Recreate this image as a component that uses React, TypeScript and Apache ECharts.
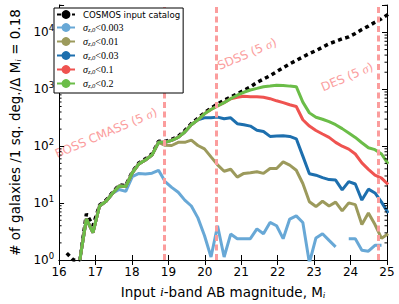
import React, { useEffect, useRef } from "react";
import * as echarts from "echarts";

// Bin centres of the input i-band magnitude (ΔM = 0.18)
const magnitudes = [
  16.03, 16.21, 16.39, 16.57, 16.75, 16.93, 17.11, 17.29, 17.47, 17.65, 17.83,
  18.01, 18.19, 18.37, 18.55, 18.73, 18.91, 19.09, 19.27, 19.45, 19.63, 19.81,
  19.99, 20.17, 20.35, 20.53, 20.71, 20.89, 21.07, 21.25, 21.43, 21.61, 21.79,
  21.97, 22.15, 22.33, 22.51, 22.69, 22.87, 23.05, 23.23, 23.41, 23.59, 23.77,
  23.95, 24.13, 24.31, 24.49, 24.67, 24.85, 25.03,
];

const cosmos = [
  null, 1.32, 1.0, 1.0, 6.5, 4.0, 9.2, 11.3, 15.5, 20.8, 20.4, 35.6, 51, 60, 73,
  122, 122, 132, 149, 189, 249, 310, 386, 470, 551, 646, 728, 836, 961, 1104,
  1321, 1517, 1742, 2044, 2395, 2807, 3226, 3707, 4258, 4797, 5510, 6339, 6998,
  7727, 8360, 9610, 11270, 12940, 15170, 17420, 20840,
];

const sigma0003 = [
  null, null, null, 1.0, 5.3, 3.04, 8.9, 10.8, 14.9, 17.4, 16.1, 29.2, 33.3,
  32.5, 33.6, 37.8, 23.9, 18.9, 15.5, 11.3, 8.9, 5.5, 2.7, 1.13, 4.0, 1.13,
  2.86, 2.37, 2.37, 2.37, 3.52, 2.89, 4.57, 4.0, 2.37, 5.24, 5.97, 4.57, 0.89,
  2.44, 2.89, 2.21, 1.7, null, 2.37, 2.37, 1.49, 1.43, 1.81, 1.81, null,
];

const sigma001 = [
  null, null, null, 1.0, 5.3, 3.04, 8.9, 10.8, 14.9, 20.0, 19.6, 34.2, 49,
  57.4, 70, 117, 104, 103, 117, 117, 128, 103, 90, 65, 47, 36.3, 39.3, 28.6,
  33.3, 34.2, 35.6, 33.3, 40.6, 40.6, 53, 46.5, 37.8, 22.1, 10.6, 8.7, 10.8,
  8.9, 10.4, 7.3, 10.1, 9.4, 4.2, 6.7, 4.2, 2.4, 2.9,
];

const sigma003 = [
  null, null, null, 1.0, 5.3, 3.04, 8.9, 10.8, 14.9, 20.0, 19.6, 34.2, 49,
  57.4, 70, 117, 117, 127, 143, 178, 239, 292, 316, 316, 325, 304, 316, 249,
  239, 226, 191, 181, 149, 152, 153, 149, 135, 67, 32.9, 31, 28.1, 25.9, 25.4,
  17.1, 23.9, 21.7, 11.3, 17.6, 15.1, 10.4, 6.7,
];

const sigma01 = [
  null, null, null, 1.0, 5.3, 3.04, 8.9, 10.8, 14.9, 20.0, 19.6, 34.2, 49,
  57.4, 70, 117, 117, 127, 143, 178, 239, 292, 371, 443, 509, 585, 686, 728,
  757, 743, 743, 728, 686, 629, 585, 536, 499, 292, 226, 189, 164, 143, 117,
  100, 89, 73, 51, 39.3, 31, 27.5, 21.3,
];

const sigma02 = [
  null, null, null, 1.0, 5.3, 3.04, 8.9, 10.8, 14.9, 20.0, 19.6, 34.2, 49,
  57.4, 70, 117, 117, 127, 143, 178, 239, 292, 371, 443, 509, 585, 686, 788,
  888, 973, 1040, 1113, 1148, 1186, 1172, 1140, 1113, 597, 386, 323, 298, 270,
  239, 204, 171, 143, 115, 94, 87, 73, 49,
];

const thresholds = ["0.003", "0.01", "0.03", "0.1", "0.2"];
const thresholdSeries = [sigma0003, sigma001, sigma003, sigma01, sigma02];
const thresholdColors = ["#68a8d6", "#9c9a5c", "#1d6fae", "#ef5350", "#6bbd48"];
const cosmosName = "COSMOS input catalog";

const limitMags = [18.9, 20.3, 24.75];
const limitLabels = ["BOSS CMASS", "SDSS", "DES"];

const xTicks = { min: 16, max: 25, step: 1 };
const yLogMax = 4.483; // top of the axis, log10 of count
const minorMultipliers = [2, 3, 4, 5, 6, 7, 8, 9];
const decades = [0, 1, 2, 3, 4];

const toLogPairs = (ys: (number | null)[]) =>
  magnitudes.map((m, i) => [m, ys[i] == null ? "-" : Math.log10(ys[i] as number)]);

const sigmaName = (t: string) => `σz,0<${t}`;

export default function App() {
  const ref = useRef<HTMLDivElement>(null);

  useEffect(() => {
    document.body.style.margin = "0";
    if (!ref.current) return;
    const chart = echarts.init(ref.current, undefined, { renderer: "svg" });

    const minorData: number[][] = [];
    decades.forEach((d) =>
      minorMultipliers.forEach((m) => {
        const v = d + Math.log10(m);
        if (v < yLogMax) minorData.push([xTicks.min, v]);
      })
    );

    const lineSeries: any[] = thresholds.map((t, i) => ({
      type: "line",
      name: sigmaName(t),
      data: toLogPairs(thresholdSeries[i]),
      showSymbol: false,
      symbol: "none",
      connectNulls: false,
      lineStyle: { color: thresholdColors[i], width: 3 },
      itemStyle: { color: thresholdColors[i] },
      z: 3 + i,
    }));

    const cosmosSeries = {
      type: "line",
      name: cosmosName,
      data: toLogPairs(cosmos),
      showSymbol: false,
      symbol: "none",
      lineStyle: { color: "#000", width: 3.5, type: [4, 3.5], cap: "butt" },
      itemStyle: { color: "#000" },
      z: 2,
      markLine: {
        silent: true,
        symbol: ["none", "none"],
        label: { show: false },
        lineStyle: { color: "#fb9d9d", width: 3, type: [6, 3.5], opacity: 1 },
        data: limitMags.map((m) => ({ xAxis: m })),
        z: 10,
      },
    };

    const minorSeries = {
      type: "custom",
      name: "minor",
      data: minorData,
      silent: true,
      z: 20,
      renderItem: (params: any, api: any) => {
        const v = api.value(1);
        const pl = api.coord([xTicks.min, v]);
        const pr = api.coord([xTicks.max, v]);
        return {
          type: "group",
          children: [
            {
              type: "line",
              shape: { x1: pl[0], y1: pl[1], x2: pl[0] + 2.5, y2: pl[1] },
              style: { stroke: "#000", lineWidth: 1 },
            },
            {
              type: "line",
              shape: { x1: pr[0], y1: pr[1], x2: pr[0] - 2.5, y2: pr[1] },
              style: { stroke: "#000", lineWidth: 1 },
            },
          ],
        };
      },
    };

    const sansFont = "DejaVu Sans";
    const serifFont = "Liberation Serif";

    const annotation = (label: string, x: number, y: number) => ({
      type: "group",
      x,
      y,
      rotation: (23 * Math.PI) / 180,
      silent: true,
      z: 50,
      children: [
        {
          type: "text",
          x: 0,
          y: 0,
          style: {
            text: `{a|${label} (5 }{s|σ}{a|)}`,
            align: "center",
            verticalAlign: "middle",
            rich: {
              a: { fontSize: 12, fontFamily: sansFont, fill: "#fb9d9d" },
              s: { fontSize: 12.5, fontFamily: serifFont, fontStyle: "italic", fill: "#fb9d9d" },
            },
          },
        },
      ],
    });

    const option: any = {
      animation: false,
      backgroundColor: "#fff",
      grid: { left: 50, right: 12, top: 5, bottom: 39, containLabel: false },
      legend: {
        data: [cosmosName, ...thresholds.map(sigmaName)],
        orient: "vertical",
        left: 54,
        top: 8,
        backgroundColor: "#fff",
        borderColor: "#000",
        borderWidth: 1,
        borderRadius: 0,
        padding: [2, 3, 4, 2],
        itemWidth: 18,
        itemHeight: 11,
        itemGap: 3,
        selectedMode: false,
        z: 30,
        formatter: (name: string) => {
          if (name === cosmosName) return `{c|${name}}`;
          const t = name.split("<")[1];
          return `{s|σ}{sub|z,0}{t|<${t}}`;
        },
        textStyle: {
          color: "#000",
          padding: [0, 0, 0, 3],
          rich: {
            c: { fontSize: 8.6, fontFamily: sansFont, lineHeight: 11, color: "#000" },
            s: { fontSize: 10, fontFamily: serifFont, fontStyle: "italic", lineHeight: 11, color: "#000" },
            sub: { fontSize: 6.5, fontFamily: serifFont, fontStyle: "italic", lineHeight: 11, padding: [4, 0, 0, 0], color: "#000" },
            t: { fontSize: 10, fontFamily: serifFont, lineHeight: 11, color: "#000" },
          },
        },
      },
      xAxis: [
        {
          type: "value",
          min: xTicks.min,
          max: xTicks.max,
          interval: xTicks.step,
          position: "bottom",
          axisLine: { lineStyle: { color: "#000", width: 1 } },
          axisTick: { inside: true, length: 5, lineStyle: { color: "#000" } },
          axisLabel: { color: "#000", fontSize: 12, fontFamily: sansFont, margin: 6 },
          splitLine: { show: false },
          name: "{a|Input }{i|i}{a|-band AB magnitude, M}{sub|i}",
          nameLocation: "middle",
          nameGap: 24,
          nameTextStyle: {
            rich: {
              a: { fontSize: 13.5, fontFamily: sansFont, color: "#000" },
              i: { fontSize: 13.5, fontFamily: serifFont, fontStyle: "italic", color: "#000" },
              sub: { fontSize: 9, fontFamily: serifFont, fontStyle: "italic", color: "#000", padding: [6, 0, 0, 0] },
            },
          },
        },
        {
          type: "value",
          min: xTicks.min,
          max: xTicks.max,
          interval: xTicks.step,
          position: "top",
          axisLine: { lineStyle: { color: "#000", width: 1 } },
          axisTick: { inside: true, length: 5, lineStyle: { color: "#000" } },
          axisLabel: { show: false },
          splitLine: { show: false },
        },
      ],
      yAxis: [
        {
          type: "value",
          min: 0,
          max: yLogMax,
          interval: 1,
          position: "left",
          axisLine: { show: true, lineStyle: { color: "#000", width: 1 } },
          axisTick: { inside: true, length: 5, lineStyle: { color: "#000" } },
          splitLine: { show: false },
          axisLabel: {
            margin: 5,
            formatter: (v: number) =>
              Math.abs(v - Math.round(v)) < 1e-6 ? `{b|10}{e|${Math.round(v)}}` : "",
            rich: {
              b: { fontSize: 12, fontFamily: sansFont, color: "#000" },
              e: { fontSize: 8.5, fontFamily: sansFont, color: "#000", padding: [0, 0, 8, 0] },
            },
          },
          name: "{a|# of galaxies /1 sq. deg./Δ M}{sub|i}{a| = 0.18}",
          nameLocation: "middle",
          nameGap: 34,
          nameRotate: 90,
          nameTextStyle: {
            rich: {
              a: { fontSize: 13.5, fontFamily: sansFont, color: "#000" },
              sub: { fontSize: 9, fontFamily: serifFont, fontStyle: "italic", color: "#000", padding: [6, 0, 0, 0] },
            },
          },
        },
        {
          type: "value",
          min: 0,
          max: yLogMax,
          interval: 1,
          position: "right",
          axisLine: { show: true, lineStyle: { color: "#000", width: 1 } },
          axisTick: { inside: true, length: 5, lineStyle: { color: "#000" } },
          axisLabel: { show: false },
          splitLine: { show: false },
        },
      ],
      graphic: [
        annotation(limitLabels[0], 106, 133),
        annotation(limitLabels[1], 247, 54),
        annotation(limitLabels[2], 347, 77),
      ],
      series: [cosmosSeries, ...lineSeries, minorSeries],
    };

    chart.setOption(option);
    return () => chart.dispose();
  }, []);

  return <div ref={ref} style={{ width: 399, height: 304 }} />;
}
